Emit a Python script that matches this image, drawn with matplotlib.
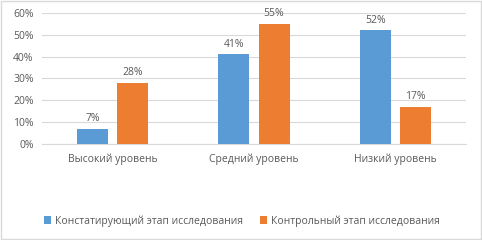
import matplotlib
matplotlib.use("Agg")
import matplotlib.pyplot as plt
import numpy as np
from matplotlib.patches import Rectangle

categories = ["Высокий уровень", "Средний уровень", "Низкий уровень"]
series_names = ["Констатирующий этап исследования", "Контрольный этап исследования"]
stage1 = [7, 41, 52]
stage2 = [28, 55, 17]
colors = ["#5B9BD5", "#ED7D31"]
yticks = [0, 10, 20, 30, 40, 50, 60]

plt.rcParams['font.family'] = ['Open Sans', 'DejaVu Sans']
txt = "#595959"

fig = plt.figure(figsize=(4.82, 2.4), dpi=100)
fig.patches.append(Rectangle((0.002, 0.004), 0.996, 0.992, transform=fig.transFigure,
                             fill=False, edgecolor="#D9D9D9", linewidth=1))
ax = fig.add_axes([0.087, 0.4, 0.88, 0.546])

x = np.arange(len(categories))
w = 0.22
off = 0.142
for i, (vals, c, name) in enumerate(zip([stage1, stage2], colors, series_names)):
    pos = x + (-off if i == 0 else off)
    ax.bar(pos, vals, width=w, color=c, label=name, zorder=3)
    for p, v in zip(pos, vals):
        ax.text(p, v + 2.2, f"{v}%", ha="center", va="bottom", fontsize=7.5, color=txt)

ax.set_xlim(-0.5, 2.5)
ax.set_ylim(0, 60)
ax.set_yticks(yticks)
ax.set_yticklabels([f"{t}%" for t in yticks], fontsize=7.5, color=txt)
ax.set_xticks(x)
ax.set_xticklabels(categories, fontsize=7.5, color=txt)
ax.tick_params(axis="both", length=0, pad=6)
ax.tick_params(axis="x", pad=7)
ax.grid(axis="y", color="#D9D9D9", linewidth=0.8, zorder=0)
for s in ["top", "right", "left"]:
    ax.spines[s].set_visible(False)
ax.spines["bottom"].set_color("#D9D9D9")

fig.legend(loc="center", bbox_to_anchor=(0.502, 0.08), ncol=2, frameon=False,
           fontsize=7.5, labelcolor=txt, handlelength=0.7, handleheight=0.7,
           handletextpad=0.4, columnspacing=1.6)

fig.savefig("out.png", dpi=100)
